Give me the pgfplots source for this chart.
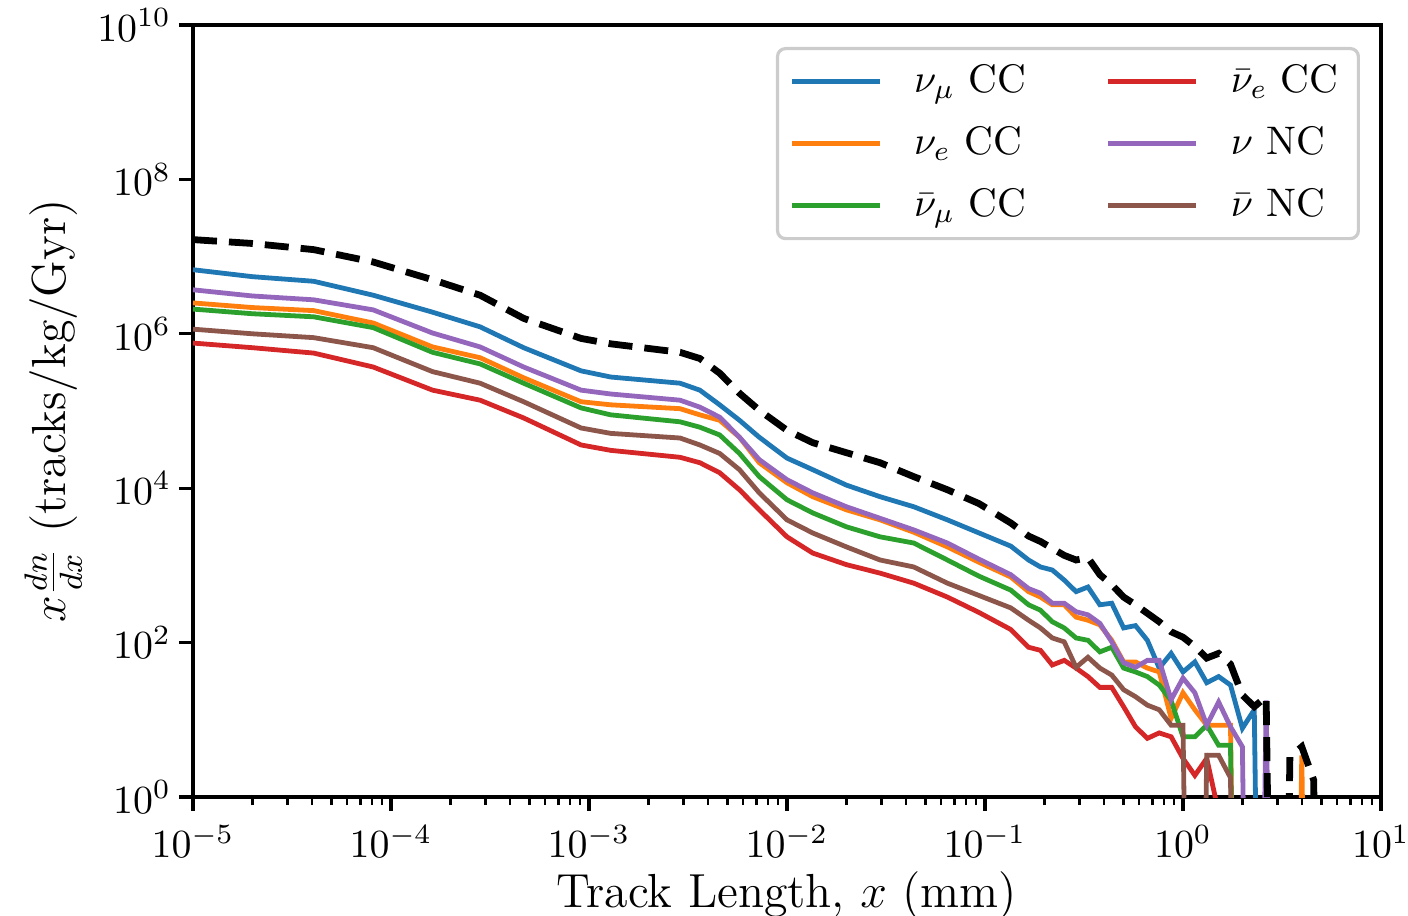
\documentclass[border=0pt]{standalone}
\usepackage{pgfplots}
\usepackage{pgfplotstable}
\pgfplotsset{compat=1.18}

\definecolor{c0}{HTML}{1F77B4}
\definecolor{c1}{HTML}{FF7F0E}
\definecolor{c2}{HTML}{2CA02C}
\definecolor{c3}{HTML}{D62728}
\definecolor{c4}{HTML}{9467BD}
\definecolor{c5}{HTML}{8C564B}

% log10 of track length and log10 of x dn/dx; -10 marks an empty bin
\pgfplotstableread{
lx    blk   b     o     g     r     p     br
-5.00 7.22  6.83  6.40  6.32  5.88  6.57  6.06
-4.70 7.17  6.74  6.34  6.26  5.82  6.49  6.00
-4.39 7.09  6.68  6.30  6.22  5.75  6.44  5.95
-4.09 6.93  6.50  6.14  6.08  5.57  6.31  5.82
-3.79 6.70  6.28  5.83  5.76  5.27  6.01  5.51
-3.55 6.50  6.09  5.69  5.61  5.14  5.83  5.36
-3.33 6.20  5.82  5.43  5.36  4.91  5.57  5.12
-3.04 5.94  5.52  5.12  5.04  4.56  5.27  4.78
-2.89 5.87  5.44  5.08  4.95  4.49  5.22  4.71
-2.54 5.76  5.36  5.03  4.86  4.40  5.14  4.65
-2.44 5.68  5.27  4.95  4.79  4.33  5.05  4.56
-2.34 5.49  5.08  4.88  4.69  4.20  4.92  4.45
-2.24 5.23  4.88  4.66  4.45  3.98  4.66  4.24
-2.14 5.01  4.66  4.33  4.15  3.72  4.37  3.94
-2.00 4.75  4.39  4.07  3.85  3.37  4.11  3.59
-1.87 4.59  4.24  3.89  3.68  3.16  3.94  3.42
-1.70 4.46  4.04  3.72  3.50  3.01  3.76  3.24
-1.53 4.33  3.89  3.59  3.37  2.90  3.61  3.07
-1.36 4.15  3.76  3.43  3.29  2.77  3.46  2.98
-1.19 3.98  3.59  3.24  3.07  2.59  3.29  2.77
-1.03 3.80  3.42  3.04  2.86  2.39  3.08  2.61
-0.87 3.55  3.25  2.85  2.68  2.17  2.88  2.45
-0.78 3.38  3.07  2.66  2.49  1.94  2.70  2.29
-0.72 3.31  2.98  2.59  2.42  1.90  2.64  2.19
-0.66 3.22  2.94  2.49  2.27  1.71  2.51  2.06
-0.60 3.13  2.81  2.49  2.19  1.77  2.51  2.01
-0.54 3.07  2.66  2.33  2.06  1.67  2.40  1.68
-0.48 3.10  2.72  2.29  2.03  1.56  2.36  1.81
-0.42 2.88  2.49  2.23  1.88  1.42  2.25  1.67
-0.36 2.75  2.51  2.03  1.94  1.42  2.01  1.58
-0.30 2.59  2.19  1.75  1.67  1.17  1.74  1.39
-0.24 2.49  2.22  1.75  1.62  0.91  1.68  1.30
-0.18 2.38  2.03  1.67  1.56  0.76  1.77  1.19
-0.12 2.27  1.67  1.62  1.45  0.83  1.77  1.13
-0.06 2.14  1.86  1.02  1.25  0.78  1.26  0.93
 0.00 2.07  1.62  1.35  0.78  0.50  1.54  0.93
 0.06 1.95  1.75  1.13  0.78  0.28  1.35 -10
 0.12 1.80  1.48  0.93  0.93  0.50  0.93  0.54
 0.18 1.86  1.56  0.93  0.67 -0.20  1.23  0.54
 0.24 1.72  1.45  0.93  0.67 -0.20  0.91  0.25
 0.30 1.32  0.89 -10   -10   -10    0.65 -10
 0.36 1.17  1.13 -10   -10   -10   -10   -10
 0.42 1.30 -10   -10   -10   -10    1.25 -10
 0.48 -10  -10   -10   -10   -10   -10   -10
 0.54 0.52 -10   -10   -10   -10   -10   -10
 0.60 0.65 -10    0.54 -10   -10   -10   -10
 0.66 0.22 -10   -10    0.05 -10   -10   -10
 0.72 -10  -10   -10   -10   -10   -10   -10
}\spectra

\begin{document}
\begin{tikzpicture}
\begin{axis}[
  name=ax,
  scale only axis,
  width=297bp, height=193bp,
  xmode=log, ymode=log,
  xmin=1e-5, xmax=10, ymin=1, ymax=1e10,
  xtick={1e-5,1e-4,1e-3,1e-2,1e-1,1,10},
  ytick={1,1e2,1e4,1e6,1e8,1e10},
  yminorticks=false,
  tick pos=left, tick align=outside,
  major tick length=3.5bp, minor tick length=2bp,
  axis line style={line width=0.8bp},
  every major tick/.append style={line width=0.8bp, black},
  every minor tick/.append style={line width=0.6bp, black},
  tick label style={font=\fontsize{10}{12}\selectfont},
  yticklabel style={xshift=1.5bp},
  label style={font=\fontsize{12}{14}\selectfont},
  xlabel={Track Length, $x$ (mm)},
  xlabel style={yshift=3.3bp},
  ylabel={$x\frac{dn}{dx}$ (tracks/kg/Gyr)},
  ylabel style={yshift=-3bp},
  legend columns=2,
  legend cell align=left,
  legend image code/.code={\draw[#1] (0bp,0bp) -- (22bp,0bp);},
  legend style={at={(1,1)}, anchor=north east, xshift=-5.25bp, yshift=-5.5bp,
    draw=black!20, line width=0.8bp, rounded corners=2bp,
    fill=white, fill opacity=0.8, text opacity=1,
    font=\fontsize{10}{12}\selectfont, row sep=3bp,
    inner ysep=2bp,
    /tikz/every odd column/.append style={column sep=6bp},
    /tikz/every even column/.append style={column sep=18bp}},
  every axis plot/.append style={line width=1.2bp},
]
\addplot[c0, forget plot] table[x expr={pow(10,\thisrow{lx})}, y expr={pow(10,\thisrow{b})}] {\spectra};
\addplot[c1, forget plot] table[x expr={pow(10,\thisrow{lx})}, y expr={pow(10,\thisrow{o})}] {\spectra};
\addplot[c2, forget plot] table[x expr={pow(10,\thisrow{lx})}, y expr={pow(10,\thisrow{g})}] {\spectra};
\addplot[c3, forget plot] table[x expr={pow(10,\thisrow{lx})}, y expr={pow(10,\thisrow{r})}] {\spectra};
\addplot[c4, forget plot] table[x expr={pow(10,\thisrow{lx})}, y expr={pow(10,\thisrow{p})}] {\spectra};
\addplot[c5, forget plot] table[x expr={pow(10,\thisrow{lx})}, y expr={pow(10,\thisrow{br})}] {\spectra};
\addplot[black, line width=1.7bp, dash pattern=on 6bp off 3bp, forget plot]
  table[x expr={pow(10,\thisrow{lx})}, y expr={pow(10,\thisrow{blk})}] {\spectra};

\addlegendimage{c0, line width=1.2bp}\addlegendentry{$\nu_\mu$ CC}
\addlegendimage{c3, line width=1.2bp}\addlegendentry{$\bar{\nu}_e$ CC}
\addlegendimage{c1, line width=1.2bp}\addlegendentry{$\nu_e$ CC}
\addlegendimage{c4, line width=1.2bp}\addlegendentry{$\nu$ NC}
\addlegendimage{c2, line width=1.2bp}\addlegendentry{$\bar{\nu}_\mu$ CC}
\addlegendimage{c5, line width=1.2bp}\addlegendentry{$\bar{\nu}$ NC}
\end{axis}
\pgfresetboundingbox
\path (ax.south west) ++(-48.25bp,-29.75bp) rectangle ++(352bp,229bp);
\end{tikzpicture}
\end{document}
